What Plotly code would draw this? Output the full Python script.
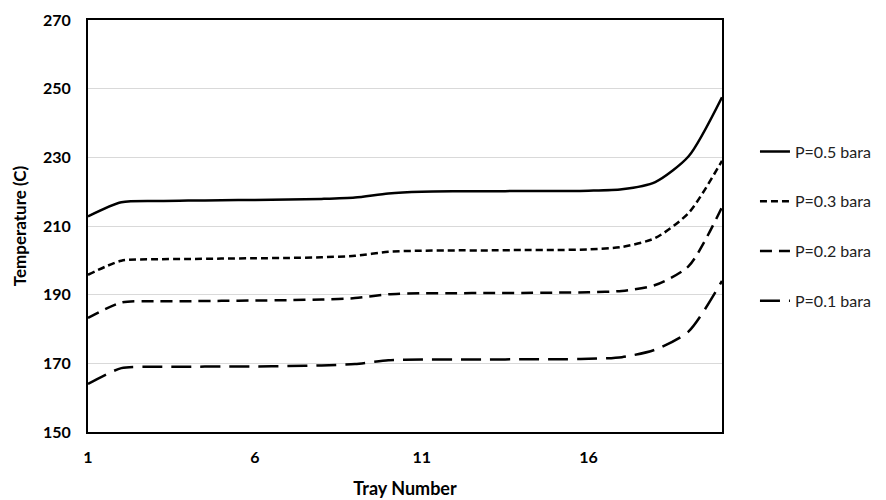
import plotly.graph_objects as go

trays = list(range(1, 21))
t_05 = [212.8, 216.9, 217.3, 217.4, 217.5, 217.6, 217.7, 217.9, 218.3, 219.5,
        220.0, 220.1, 220.1, 220.2, 220.2, 220.3, 220.7, 222.8, 230.3, 247.5]
t_03 = [195.8, 199.9, 200.3, 200.4, 200.5, 200.6, 200.7, 200.9, 201.3, 202.5,
        202.8, 202.9, 202.9, 203.0, 203.0, 203.2, 203.9, 206.5, 213.8, 229.0]
t_02 = [183.2, 187.7, 188.1, 188.1, 188.2, 188.3, 188.4, 188.6, 189.0, 190.1,
        190.4, 190.4, 190.5, 190.5, 190.6, 190.7, 191.1, 192.8, 198.3, 215.5]
t_01 = [164.0, 168.6, 169.0, 169.0, 169.1, 169.1, 169.2, 169.4, 169.8, 170.9,
        171.1, 171.1, 171.1, 171.2, 171.2, 171.3, 171.8, 174.0, 179.3, 194.0]
series_names = ["P=0.5 bara", "P=0.3 bara", "P=0.2 bara", "P=0.1 bara"]
x_ticks = [1, 6, 11, 16]
y_ticks = [150, 170, 190, 210, 230, 250, 270]

dashes = ["solid", "7px,4px", "12px,7px", "20px,9px"]
fig = go.Figure()
for i, (name, vals) in enumerate(zip(series_names, [t_05, t_03, t_02, t_01])):
    fig.add_trace(go.Scatter(
        x=trays, y=vals, mode="lines", name=name, legendgroup=name,
        line=dict(color="black", width=2.5, dash=dashes[i], shape="spline", smoothing=0.7),
    ))

fig.update_layout(
    width=878, height=492,
    margin=dict(l=80, r=164, t=12, b=68, autoexpand=False),
    paper_bgcolor="white", plot_bgcolor="white",
    font=dict(family="Lato, Open Sans, sans-serif", color="black"),
    showlegend=True,
    legend=dict(x=1.052, y=0.722, xanchor="left", yanchor="top",
                font=dict(size=16, color="#222"), tracegroupgap=26,
                bgcolor="rgba(0,0,0,0)"),
    xaxis=dict(range=[1, 20], tickvals=x_ticks, ticktext=[str(v) for v in x_ticks],
               showgrid=False, zeroline=False, automargin=False,
               showline=True, linecolor="black", linewidth=2, mirror=True,
               ticks="", ticklabelstandoff=10,
               tickfont=dict(size=16, family="Lato", weight="bold"),
               title=dict(text="Tray Number", font=dict(size=18, weight="bold"), standoff=17)),
    yaxis=dict(range=[150, 270], tickvals=y_ticks, ticktext=[str(v) for v in y_ticks],
               showgrid=True, gridcolor="#d9d9d9", gridwidth=1, zeroline=False, automargin=False,
               showline=True, linecolor="black", linewidth=2, mirror=True,
               ticks="", ticklabelstandoff=12,
               tickfont=dict(size=16, family="Lato", weight="bold"),
               title=dict(text="Temperature (C)", font=dict(size=17, weight="bold"), standoff=12)),
)

fig.write_html("out.html")
